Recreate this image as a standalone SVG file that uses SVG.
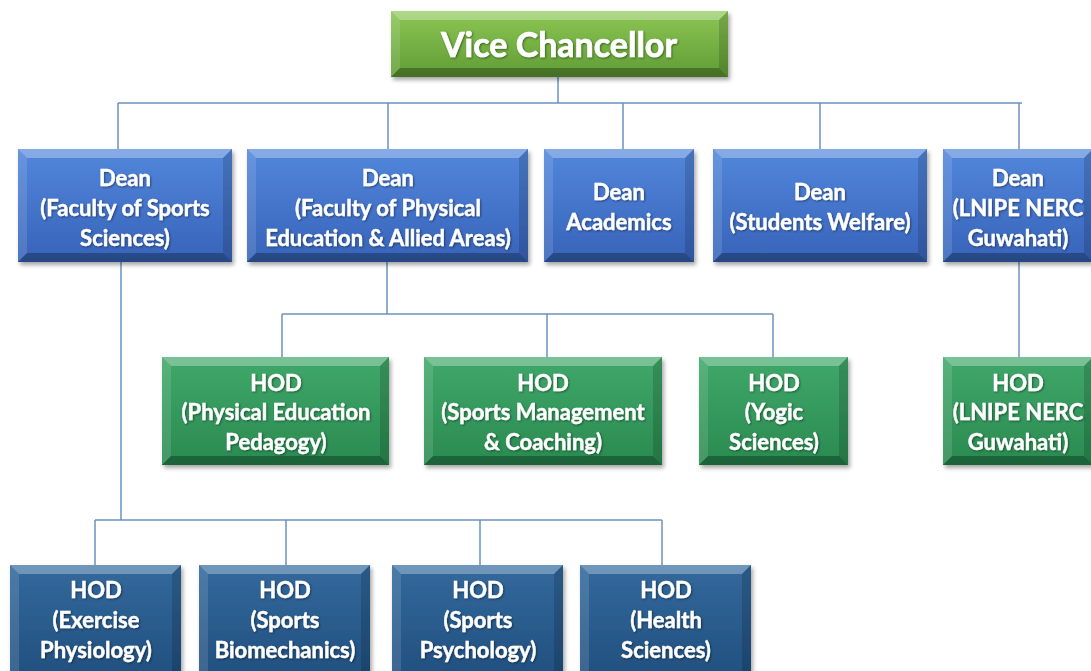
<svg xmlns="http://www.w3.org/2000/svg" width="1091" height="671" viewBox="0 0 1091 671">
<style>
.lbl{font-family:Lato,"Open Sans","Liberation Sans",sans-serif;font-weight:bold;fill:#fff;text-anchor:middle;font-size:22px;stroke:#fff;stroke-width:0.4;filter:url(#ts)}
.vc{font-size:34px;stroke-width:0.6}
.hi{fill:#fff;fill-opacity:0.3}
.lt{fill:#fff;fill-opacity:0.12}
.dk{fill:#000;fill-opacity:0.15}
.dd{fill:#000;fill-opacity:0.28}
.conn{fill:none;stroke:#6b93c0;stroke-width:1.5}
.box{filter:url(#sh)}
</style>
<defs>
<linearGradient id="gVC" x1="0" y1="0" x2="0" y2="1"><stop offset="0" stop-color="#8cc655"/><stop offset="1" stop-color="#5f9c34"/></linearGradient>
<linearGradient id="gD" x1="0" y1="0" x2="0" y2="1"><stop offset="0" stop-color="#5287dc"/><stop offset="1" stop-color="#3763b9"/></linearGradient>
<linearGradient id="gH" x1="0" y1="0" x2="0" y2="1"><stop offset="0" stop-color="#40a86a"/><stop offset="1" stop-color="#2a8a50"/></linearGradient>
<linearGradient id="gB" x1="0" y1="0" x2="0" y2="1"><stop offset="0" stop-color="#33699d"/><stop offset="1" stop-color="#214f7e"/></linearGradient>
<filter id="sh" x="-10%" y="-10%" width="120%" height="130%"><feDropShadow dx="2" dy="3" stdDeviation="2" flood-color="#000" flood-opacity="0.35"/></filter>
<filter id="ts" x="-10%" y="-30%" width="120%" height="160%"><feDropShadow dx="1" dy="1" stdDeviation="0.8" flood-color="#000" flood-opacity="0.45"/></filter>
</defs>
<rect width="1091" height="671" fill="#fff"/>

<g id="connectors">
<path class="conn" d="M558 77V103M118 103H1022M118 103V149M388 103V149M623 103V149M820 103V149M1019 103V149"/>
<path class="conn" d="M387 262V314M282 314H773M282 314V357M547 314V357M773 314V357"/>
<path class="conn" d="M1019 262V357"/>
<path class="conn" d="M121 262V520M95 520H662M95 520V565M286 520V565M480 520V565M662 520V565"/>
</g>

<g id="vice-chancellor" class="box">
<rect x="391" y="11" width="337" height="66" fill="url(#gVC)"/>
<polygon class="hi" points="391,11 728,11 719,20 400,20"/>
<polygon class="lt" points="391,11 400,20 400,68 391,77"/>
<polygon class="dk" points="728,11 728,77 719,68 719,20"/>
<polygon class="dd" points="391,77 400,68 719,68 728,77"/>
<text class="lbl vc" x="559" y="57">Vice Chancellor</text>
</g>

<g id="dean-sports-sciences" class="box">
<rect x="18" y="149" width="214" height="113" fill="url(#gD)"/>
<polygon class="hi" points="18,149 232,149 223,158 27,158"/>
<polygon class="lt" points="18,149 27,158 27,253 18,262"/>
<polygon class="dk" points="232,149 232,262 223,253 223,158"/>
<polygon class="dd" points="18,262 27,253 223,253 232,262"/>
<text class="lbl" x="125" y="186">Dean</text>
<text class="lbl" x="125" y="216">(Faculty of Sports</text>
<text class="lbl" x="125" y="246">Sciences)</text>
</g>

<g id="dean-physical-education" class="box">
<rect x="247" y="149" width="281" height="113" fill="url(#gD)"/>
<polygon class="hi" points="247,149 528,149 519,158 256,158"/>
<polygon class="lt" points="247,149 256,158 256,253 247,262"/>
<polygon class="dk" points="528,149 528,262 519,253 519,158"/>
<polygon class="dd" points="247,262 256,253 519,253 528,262"/>
<text class="lbl" x="388" y="186">Dean</text>
<text class="lbl" x="388" y="216">(Faculty of Physical</text>
<text class="lbl" x="388" y="246">Education &amp; Allied Areas)</text>
</g>

<g id="dean-academics" class="box">
<rect x="544" y="149" width="150" height="113" fill="url(#gD)"/>
<polygon class="hi" points="544,149 694,149 685,158 553,158"/>
<polygon class="lt" points="544,149 553,158 553,253 544,262"/>
<polygon class="dk" points="694,149 694,262 685,253 685,158"/>
<polygon class="dd" points="544,262 553,253 685,253 694,262"/>
<text class="lbl" x="619" y="200">Dean</text>
<text class="lbl" x="619" y="230">Academics</text>
</g>

<g id="dean-students-welfare" class="box">
<rect x="713" y="149" width="214" height="113" fill="url(#gD)"/>
<polygon class="hi" points="713,149 927,149 918,158 722,158"/>
<polygon class="lt" points="713,149 722,158 722,253 713,262"/>
<polygon class="dk" points="927,149 927,262 918,253 918,158"/>
<polygon class="dd" points="713,262 722,253 918,253 927,262"/>
<text class="lbl" x="820" y="200">Dean</text>
<text class="lbl" x="820" y="230">(Students Welfare)</text>
</g>

<g id="dean-lnipe-nerc" class="box">
<rect x="943" y="149" width="150" height="113" fill="url(#gD)"/>
<polygon class="hi" points="943,149 1093,149 1084,158 952,158"/>
<polygon class="lt" points="943,149 952,158 952,253 943,262"/>
<polygon class="dk" points="1093,149 1093,262 1084,253 1084,158"/>
<polygon class="dd" points="943,262 952,253 1084,253 1093,262"/>
<text class="lbl" x="1018" y="186">Dean</text>
<text class="lbl" x="1018" y="216">(LNIPE NERC</text>
<text class="lbl" x="1018" y="246">Guwahati)</text>
</g>

<g id="hod-pe-pedagogy" class="box">
<rect x="162" y="357" width="227" height="108" fill="url(#gH)"/>
<polygon class="hi" points="162,357 389,357 380,366 171,366"/>
<polygon class="lt" points="162,357 171,366 171,456 162,465"/>
<polygon class="dk" points="389,357 389,465 380,456 380,366"/>
<polygon class="dd" points="162,465 171,456 380,456 389,465"/>
<text class="lbl" x="276" y="391">HOD</text>
<text class="lbl" x="276" y="420">(Physical Education</text>
<text class="lbl" x="276" y="450">Pedagogy)</text>
</g>

<g id="hod-sports-management" class="box">
<rect x="424" y="357" width="238" height="108" fill="url(#gH)"/>
<polygon class="hi" points="424,357 662,357 653,366 433,366"/>
<polygon class="lt" points="424,357 433,366 433,456 424,465"/>
<polygon class="dk" points="662,357 662,465 653,456 653,366"/>
<polygon class="dd" points="424,465 433,456 653,456 662,465"/>
<text class="lbl" x="543" y="391">HOD</text>
<text class="lbl" x="543" y="420">(Sports Management</text>
<text class="lbl" x="543" y="450">&amp; Coaching)</text>
</g>

<g id="hod-yogic-sciences" class="box">
<rect x="699" y="357" width="149" height="108" fill="url(#gH)"/>
<polygon class="hi" points="699,357 848,357 839,366 708,366"/>
<polygon class="lt" points="699,357 708,366 708,456 699,465"/>
<polygon class="dk" points="848,357 848,465 839,456 839,366"/>
<polygon class="dd" points="699,465 708,456 839,456 848,465"/>
<text class="lbl" x="774" y="391">HOD</text>
<text class="lbl" x="774" y="420">(Yogic</text>
<text class="lbl" x="774" y="450">Sciences)</text>
</g>

<g id="hod-lnipe-nerc" class="box">
<rect x="943" y="357" width="150" height="108" fill="url(#gH)"/>
<polygon class="hi" points="943,357 1093,357 1084,366 952,366"/>
<polygon class="lt" points="943,357 952,366 952,456 943,465"/>
<polygon class="dk" points="1093,357 1093,465 1084,456 1084,366"/>
<polygon class="dd" points="943,465 952,456 1084,456 1093,465"/>
<text class="lbl" x="1018" y="391">HOD</text>
<text class="lbl" x="1018" y="420">(LNIPE NERC</text>
<text class="lbl" x="1018" y="450">Guwahati)</text>
</g>

<g id="hod-exercise-physiology" class="box">
<rect x="10" y="565" width="171" height="115" fill="url(#gB)"/>
<polygon class="hi" points="10,565 181,565 172,574 19,574"/>
<polygon class="lt" points="10,565 19,574 19,671 10,680"/>
<polygon class="dk" points="181,565 181,680 172,671 172,574"/>
<text class="lbl" x="96" y="598">HOD</text>
<text class="lbl" x="96" y="628">(Exercise</text>
<text class="lbl" x="96" y="658">Physiology)</text>
</g>

<g id="hod-sports-biomechanics" class="box">
<rect x="199" y="565" width="171" height="115" fill="url(#gB)"/>
<polygon class="hi" points="199,565 370,565 361,574 208,574"/>
<polygon class="lt" points="199,565 208,574 208,671 199,680"/>
<polygon class="dk" points="370,565 370,680 361,671 361,574"/>
<text class="lbl" x="285" y="598">HOD</text>
<text class="lbl" x="285" y="628">(Sports</text>
<text class="lbl" x="285" y="658">Biomechanics)</text>
</g>

<g id="hod-sports-psychology" class="box">
<rect x="392" y="565" width="171" height="115" fill="url(#gB)"/>
<polygon class="hi" points="392,565 563,565 554,574 401,574"/>
<polygon class="lt" points="392,565 401,574 401,671 392,680"/>
<polygon class="dk" points="563,565 563,680 554,671 554,574"/>
<text class="lbl" x="478" y="598">HOD</text>
<text class="lbl" x="478" y="628">(Sports</text>
<text class="lbl" x="478" y="658">Psychology)</text>
</g>

<g id="hod-health-sciences" class="box">
<rect x="580" y="565" width="171" height="115" fill="url(#gB)"/>
<polygon class="hi" points="580,565 751,565 742,574 589,574"/>
<polygon class="lt" points="580,565 589,574 589,671 580,680"/>
<polygon class="dk" points="751,565 751,680 742,671 742,574"/>
<text class="lbl" x="666" y="598">HOD</text>
<text class="lbl" x="666" y="628">(Health</text>
<text class="lbl" x="666" y="658">Sciences)</text>
</g>
</svg>
